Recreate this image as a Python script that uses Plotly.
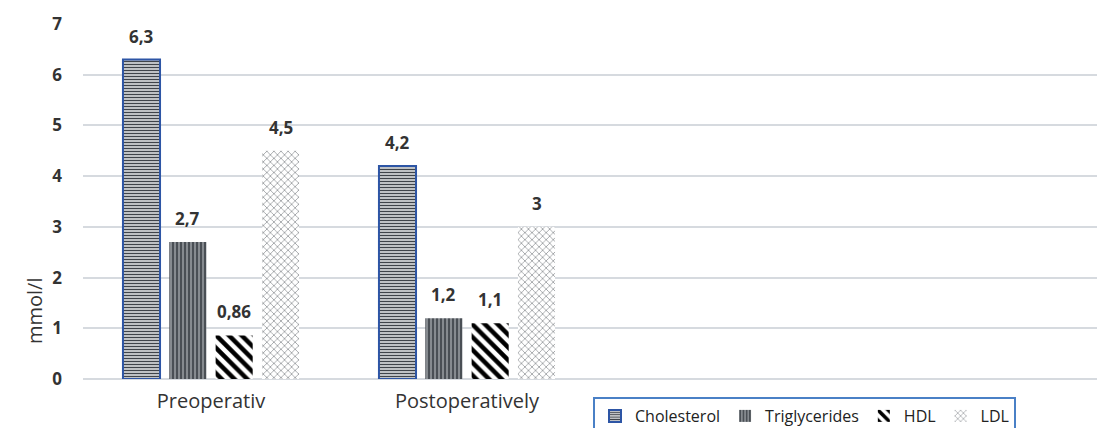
import plotly.graph_objects as go

categories = ["Preoperativ", "Postoperatively", " ", "  "]
series_names = ["Cholesterol", "Triglycerides", "HDL", "LDL"]
cholesterol = [6.3, 4.2, None, None]
triglycerides = [2.7, 1.2, None, None]
hdl = [0.86, 1.1, None, None]
ldl = [4.5, 3.0, None, None]
label_text = {
    "Cholesterol": ["6,3", "4,2"],
    "Triglycerides": ["2,7", "1,2"],
    "HDL": ["0,86", "1,1"],
    "LDL": ["4,5", "3"],
}
y_ticks = [0, 1, 2, 3, 4, 5, 6, 7]

values = [cholesterol, triglycerides, hdl, ldl]

styles = {
    "Cholesterol": dict(color="#c9ccd0",
                        pattern=dict(shape="-", fgcolor="#3f444a", bgcolor="#d9dbde", size=3, solidity=0.45, fgopacity=1),
                        line=dict(color="#2d55a5", width=2)),
    "Triglycerides": dict(color="#5a5f65",
                          pattern=dict(shape="|", fgcolor="#4a4f55", bgcolor="#aeb2b6", size=4, solidity=0.7, fgopacity=1),
                          line=dict(width=0)),
    "HDL": dict(color="#ffffff",
                pattern=dict(shape="\\", fgcolor="#000000", bgcolor="#ffffff", size=9, solidity=0.5, fgopacity=1),
                line=dict(width=0)),
    "LDL": dict(color="#ffffff",
                pattern=dict(shape="x", fgcolor="#9a9da1", bgcolor="#ffffff", size=5, solidity=0.3, fgopacity=1),
                line=dict(width=0)),
}

fig = go.Figure()
for name, vals in zip(series_names, values):
    fig.add_trace(go.Bar(
        name=name, x=categories, y=vals,
        marker=styles[name],
    ))

W, H = 1097, 428
ml, mr, mt, mb = 83, 0, 24, 49
pw, ph = W - ml - mr, H - mt - mb

bargap = 0.276
bargroupgap = 0.2
n = len(series_names)
slot = (1 - bargap) / n
annotations = []
for si, name in enumerate(series_names):
    off = (si - (n - 1) / 2) * slot
    for ci, txt in enumerate(label_text[name]):
        annotations.append(dict(
            x=ci + off, y=values[si][ci], xref="x", yref="y",
            text=f"<b>{txt}</b>", showarrow=False, yanchor="bottom", yshift=10,
            font=dict(family="Open Sans", size=17, color="#333333"),
        ))

annotations.append(dict(
    x=(19 - ml) / pw, y=(H - mb - 346) / ph, xref="paper", yref="paper",
    text="mmol/l", showarrow=False, textangle=-90,
    font=dict(family="Open Sans", size=20, color="#333333"),
))

fig.update_layout(
    width=W, height=H,
    margin=dict(l=ml, r=mr, t=mt, b=mb, autoexpand=False),
    paper_bgcolor="white", plot_bgcolor="white",
    barmode="group", bargap=bargap, bargroupgap=bargroupgap,
    font=dict(family="Open Sans", color="#333333"),
    xaxis=dict(
        type="category", range=[-0.5, -0.5 + pw / 256.0],
        showgrid=False, showline=False, zeroline=False, automargin=False,
        tickfont=dict(family="Open Sans", size=20, color="#333333"),
        ticklabelstandoff=8,
    ),
    yaxis=dict(
        range=[0, 7], tickvals=y_ticks, automargin=False,
        showgrid=True, gridcolor="#d6dadf", gridwidth=1.5,
        zeroline=True, zerolinecolor="#d6dadf", zerolinewidth=1.5,
        showline=False,
        tickfont=dict(family="Open Sans", size=17, color="#333333", weight="bold"),
        ticklabelstandoff=20,
    ),
    showlegend=True,
    legend=dict(
        orientation="h", x=(593 - ml) / pw, xanchor="left",
        y=(H - mb - 397) / ph, yanchor="top",
        bordercolor="#4a80c6", borderwidth=2, bgcolor="white",
        font=dict(family="Open Sans", size=16, color="#222222"),
        traceorder="normal",
    ),
    annotations=annotations,
)

fig.write_html(
    "out.html",
    config={"displayModeBar": False},
    post_script="document.body.style.margin='0';document.body.style.padding='0';"
                "document.documentElement.style.overflow='hidden';document.body.style.overflow='hidden';",
)
